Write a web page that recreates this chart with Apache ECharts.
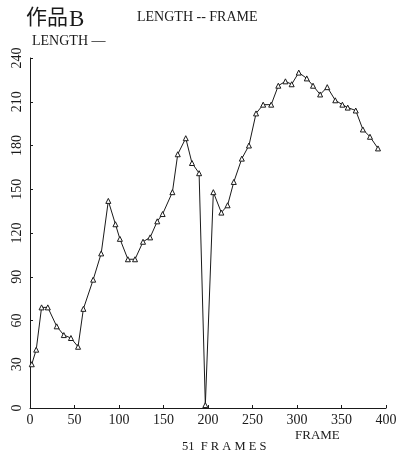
<!DOCTYPE html>
<html>
<head>
<meta charset="utf-8">
<script src="https://cdn.jsdelivr.net/npm/echarts@6/dist/echarts.min.js"></script>
<style>
html,body{margin:0;padding:0;background:#fff;}
#chart{width:404px;height:454px;}
</style>
</head>
<body>
<div id="chart"></div>
<script>
var frames = [2,7,13,20,30,38,46,54,60,71,80,88,96,101,110,118,127,135,143,149,160,166,175,182,190,197,206,215,222,229,238,246,254,262,271,279,287,294,302,311,318,326,334,343,351,357,366,374,382,391];
var lengths = [30,40,69,69,56,50,48,42,68,88,106,142,126,116,102,102,114,117,128,133,148,174,185,168,161,2,148,134,139,155,171,180,202,208,208,221,224,222,230,226,221,215,220,211,208,206,204,191,186,178];
var xTicks = [0,50,100,150,200,250,300,350,400];
var yTicks = [0,30,60,90,120,150,180,210,240];

var serif = '"Liberation Serif","DejaVu Serif",serif';
var ink = '#1a1a1a';
var chart = echarts.init(document.getElementById('chart'), null, {renderer:'canvas'});
var points = frames.map(function(f,i){return [f, lengths[i]];});
chart.setOption({
  animation:false,
  backgroundColor:'#fff',
  grid:{left:30, right:18, top:58, bottom:46},
  xAxis:{
    type:'value', min:xTicks[0], max:xTicks[xTicks.length-1], interval:50,
    axisLine:{lineStyle:{color:ink,width:1}},
    axisTick:{inside:true,length:3,lineStyle:{color:ink}},
    axisLabel:{color:ink,fontFamily:serif,fontSize:14,margin:5},
    splitLine:{show:false}
  },
  yAxis:{
    type:'value', min:yTicks[0], max:yTicks[yTicks.length-1], interval:30,
    axisLine:{show:true,lineStyle:{color:ink,width:1}},
    axisTick:{show:true,inside:true,length:3,lineStyle:{color:ink}},
    axisLabel:{color:ink,fontFamily:serif,fontSize:14,rotate:90,margin:6},
    splitLine:{show:false}
  },
  series:[{
    type:'line',
    data:points,
    symbol:'triangle',
    symbolSize:5,
    showAllSymbol:true,
    lineStyle:{color:ink,width:1},
    itemStyle:{color:'#fff',borderColor:ink,borderWidth:1}
  }],
  graphic:[
    {type:'text',left:26,top:6,style:{text:'作品',font:'21px "Noto Sans CJK JP"',fill:ink}},
    {type:'text',left:69,top:8,style:{text:'B',font:'23px '+serif,fill:ink}},
    {type:'text',left:137,top:10,style:{text:'LENGTH -- FRAME',font:'14px '+serif,fill:ink}},
    {type:'text',left:32,top:34,style:{text:'LENGTH —',font:'14px '+serif,fill:ink}},
    {type:'text',left:295,top:429,style:{text:'FRAME',font:'13px '+serif,fill:ink}},
    {type:'text',left:182,top:440,style:{text:'51  F R A M E S',font:'12.5px '+serif,fill:ink}}
  ]
});
</script>
</body>
</html>
